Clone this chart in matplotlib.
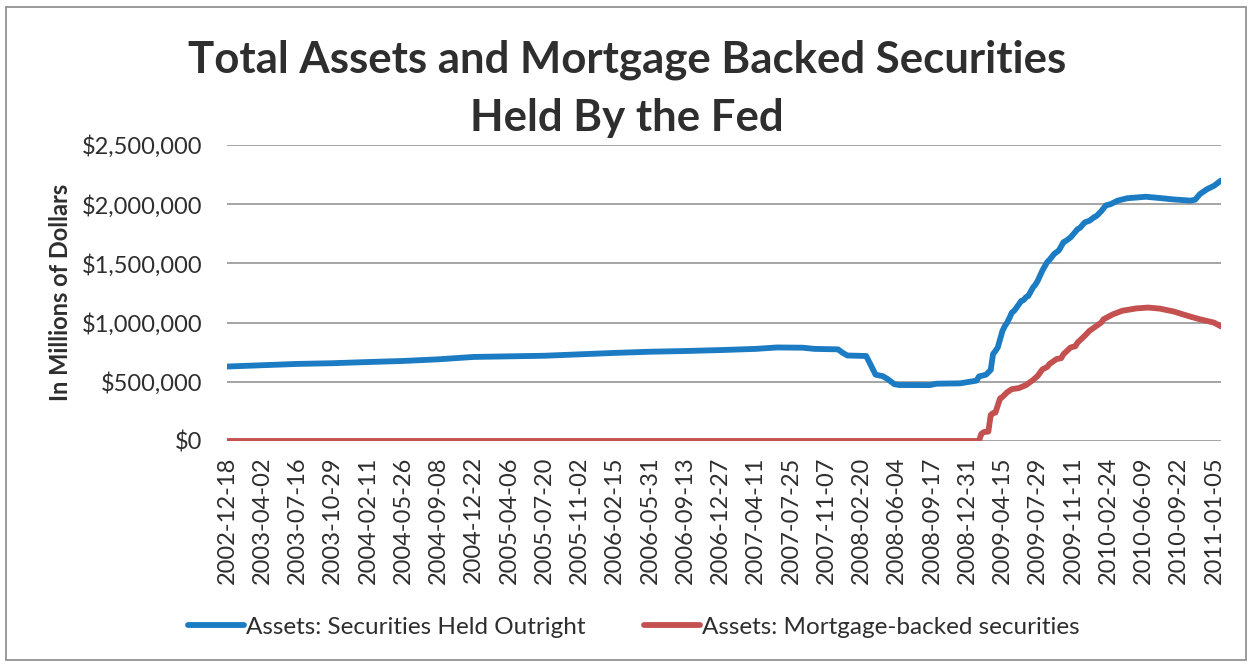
import matplotlib
matplotlib.use("Agg")
import matplotlib.pyplot as plt
import pandas as pd
from matplotlib.ticker import FuncFormatter, MultipleLocator
from matplotlib.patches import Rectangle

plt.rcParams['font.family'] = ['Lato', 'DejaVu Sans']

# Category labels shown on the x axis (every 15th weekly observation)
tick_dates = [
    "2002-12-18", "2003-04-02", "2003-07-16", "2003-10-29", "2004-02-11",
    "2004-05-26", "2004-09-08", "2004-12-22", "2005-04-06", "2005-07-20",
    "2005-11-02", "2006-02-15", "2006-05-31", "2006-09-13", "2006-12-27",
    "2007-04-11", "2007-07-25", "2007-11-07", "2008-02-20", "2008-06-04",
    "2008-09-17", "2008-12-31", "2009-04-15", "2009-07-29", "2009-11-11",
    "2010-02-24", "2010-06-09", "2010-09-22", "2011-01-05",
]

# Assets: Securities Held Outright (millions of dollars)
held_dates = [
    "2002-12-18", "2003-04-02", "2003-07-16", "2003-10-29", "2004-02-11",
    "2004-05-26", "2004-09-08", "2004-12-22", "2005-04-06", "2005-07-20",
    "2005-11-02", "2006-02-15", "2006-05-31", "2006-09-13", "2006-12-27",
    "2007-04-11", "2007-06-13", "2007-08-29", "2007-10-03", "2007-12-12",
    "2007-12-26", "2008-01-09", "2008-03-05", "2008-03-19", "2008-04-02",
    "2008-04-23", "2008-05-07", "2008-05-28", "2008-06-11", "2008-09-10",
    "2008-10-01", "2008-12-10", "2009-01-07", "2009-01-28", "2009-02-04",
    "2009-02-25", "2009-03-11", "2009-03-18", "2009-03-25", "2009-04-01",
    "2009-04-15", "2009-04-22", "2009-04-29", "2009-05-06", "2009-05-13",
    "2009-05-20", "2009-05-27", "2009-06-10", "2009-06-17", "2009-06-24",
    "2009-07-01", "2009-07-15", "2009-07-22", "2009-07-29", "2009-08-12",
    "2009-08-26", "2009-09-02", "2009-09-16", "2009-09-30", "2009-10-14",
    "2009-10-21", "2009-11-04", "2009-11-25", "2009-12-02", "2009-12-16",
    "2009-12-30", "2010-01-13", "2010-01-20", "2010-02-03", "2010-02-17",
    "2010-03-03", "2010-03-24", "2010-04-21", "2010-06-16", "2010-08-04",
    "2010-09-08", "2010-10-27", "2010-11-10", "2010-11-24", "2010-12-15",
    "2011-01-05", "2011-01-26",
]
held_values = [
    629000, 640000, 651000, 657000, 667000,
    676000, 690000, 710000, 715000, 720000,
    732000, 744000, 754000, 760000, 768000,
    778000, 790000, 788000, 778000, 774000,
    745000, 722000, 718000, 640000, 560000,
    548000, 525000, 480000, 473000, 472000,
    484000, 487000, 500000, 510000, 545000,
    560000, 600000, 735000, 760000, 790000,
    930000, 970000, 1000000, 1040000, 1085000,
    1100000, 1127000, 1183000, 1190000, 1215000,
    1225000, 1297000, 1320000, 1353000, 1440000,
    1510000, 1530000, 1580000, 1610000, 1680000,
    1690000, 1720000, 1790000, 1800000, 1846000,
    1860000, 1890000, 1900000, 1940000, 1990000,
    2000000, 2030000, 2050000, 2063000, 2050000,
    2040000, 2030000, 2038000, 2085000, 2126000,
    2155000, 2200000,
]

# Assets: Mortgage-backed securities (millions of dollars)
mbs_dates = [
    "2002-12-18", "2009-02-04", "2009-02-11", "2009-02-18", "2009-03-04",
    "2009-03-11", "2009-03-18", "2009-03-25", "2009-04-08", "2009-04-15",
    "2009-04-29", "2009-05-13", "2009-06-03", "2009-06-24", "2009-07-15",
    "2009-07-29", "2009-08-12", "2009-08-26", "2009-09-02", "2009-09-23",
    "2009-10-07", "2009-10-14", "2009-11-04", "2009-11-18", "2009-11-25",
    "2009-12-16", "2009-12-30", "2010-01-13", "2010-02-03", "2010-02-10",
    "2010-03-10", "2010-04-07", "2010-05-19", "2010-06-23", "2010-07-28",
    "2010-09-08", "2010-10-20", "2010-11-24", "2011-01-05", "2011-01-26",
]
mbs_values = [
    0, 0, 60000, 75000, 80000,
    220000, 236000, 240000, 360000, 372000,
    412000, 438000, 447000, 472000, 515000,
    550000, 605000, 625000, 650000, 692000,
    700000, 734000, 790000, 800000, 832000,
    888000, 930000, 958000, 1000000, 1028000,
    1070000, 1100000, 1120000, 1127000, 1118000,
    1093000, 1056000, 1028000, 1000000, 968000,
]

BLUE = "#1B7BC3"
RED = "#C4504F"
TEXT = "#2e2e2e"

W, H = 1250, 666
fig = plt.figure(figsize=(W / 100, H / 100), dpi=100)
fig.patch.set_facecolor("white")

# chart frame
fig.add_artist(Rectangle((6 / W, 1 - 660 / H), (1246 - 6) / W, (660 - 7) / H,
                         transform=fig.transFigure, fill=False,
                         edgecolor="#8a8a8a", lw=1.2))

ax = fig.add_axes([227 / W, 1 - 441 / H, (1221 - 227) / W, (441 - 145) / H])

ax.plot(pd.to_datetime(held_dates), held_values, color=BLUE, lw=4.2,
        solid_joinstyle="round", solid_capstyle="round",
        label="Assets: Securities Held Outright", zorder=3)
ax.plot(pd.to_datetime(mbs_dates), mbs_values, color=RED, lw=4.2,
        solid_joinstyle="round", solid_capstyle="round",
        label="Assets: Mortgage-backed securities", zorder=3)

ax.set_ylim(0, 2500000)
ax.set_xlim(pd.Timestamp(tick_dates[0]), pd.Timestamp(held_dates[-1]))
ax.yaxis.set_major_locator(MultipleLocator(500000))
ax.yaxis.set_major_formatter(FuncFormatter(lambda v, p: f"${v:,.0f}"))
ax.grid(axis="y", color="#8c8c8c", lw=1.1)
ax.grid(axis="x", visible=False)
ax.set_axisbelow(True)
for s in ax.spines.values():
    s.set_visible(False)
ax.tick_params(axis="both", length=0, labelsize=17, labelcolor=TEXT)
ax.tick_params(axis="y", pad=18)
ax.tick_params(axis="x", pad=11)
ax.set_xticks(pd.to_datetime(tick_dates))
ax.set_xticklabels(tick_dates, rotation=90)

fig.text(627 / W, 1 - 72 / H, "Total Assets and Mortgage Backed Securities",
         ha="center", va="baseline", fontsize=31.5, fontweight="bold", color=TEXT)
fig.text(627 / W, 1 - 131 / H, "Held By the Fed",
         ha="center", va="baseline", fontsize=31.5, fontweight="bold", color=TEXT)

fig.text(60 / W, 1 - 292 / H, "In Millions of Dollars", rotation=90,
         ha="center", va="center", fontsize=17, fontweight="bold", color=TEXT)

fig.legend(loc="center", bbox_to_anchor=(634 / W, 1 - 627 / H), ncol=2,
           frameon=False, fontsize=17.5, handlelength=2.3, handletextpad=0.1,
           columnspacing=2.4, labelcolor=TEXT)

fig.savefig("out.png", dpi=100, facecolor="white")
